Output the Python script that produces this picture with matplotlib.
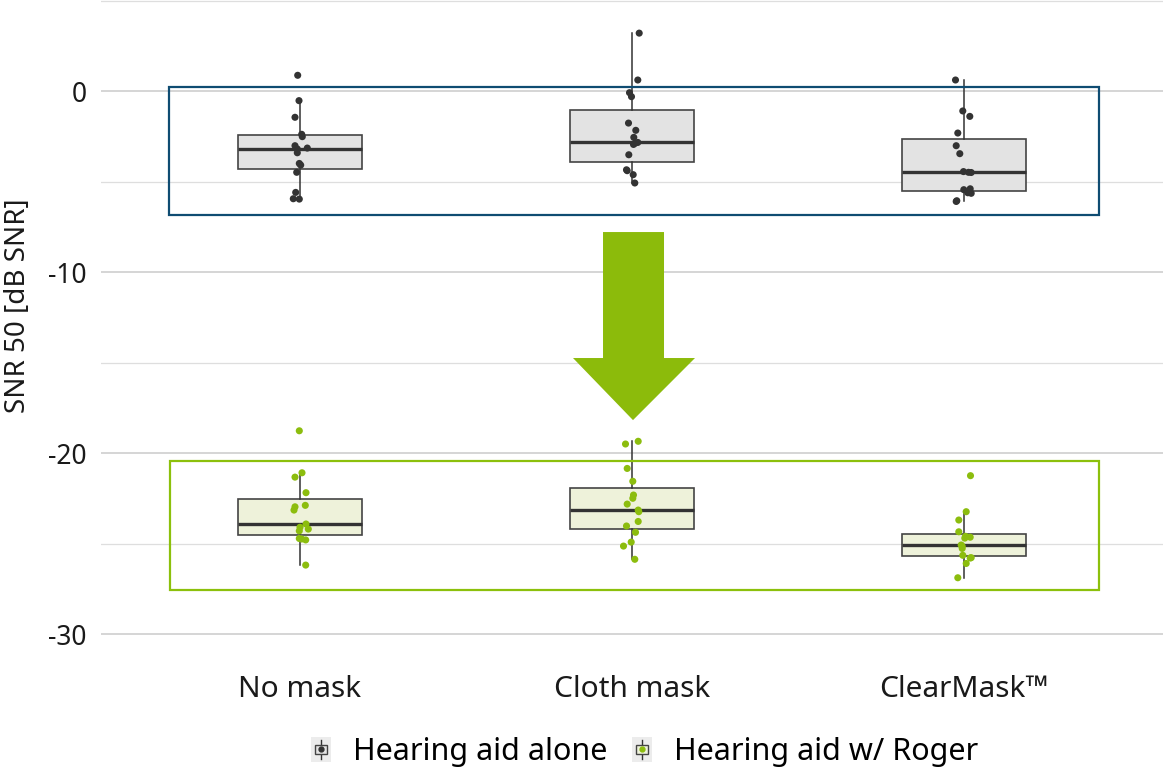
import matplotlib
matplotlib.use("Agg")
import matplotlib.pyplot as plt
from matplotlib.patches import Rectangle, Polygon, Patch
from matplotlib.lines import Line2D
from matplotlib.legend_handler import HandlerBase

plt.rcParams['font.family'] = ['Noto Sans', 'DejaVu Sans']

# ---------------- data ----------------
categories = ["No mask", "Cloth mask", "ClearMask\u2122"]
series_names = ["Hearing aid alone", "Hearing aid w/ Roger"]

alone_no_mask = [0.87, -0.53, -1.45, -2.39, -2.52, -3.02, -3.15, -3.20, -3.41,
                 -4.00, -4.09, -4.49, -5.60, -5.95, -5.97]
alone_cloth = [3.20, 0.61, -0.09, -0.31, -1.77, -2.17, -2.56, -2.84, -2.88,
               -2.95, -3.52, -4.35, -4.40, -4.62, -5.08]
alone_clear = [0.61, -1.10, -1.40, -2.32, -3.02, -3.46, -4.45, -4.49, -4.50,
               -5.40, -5.45, -5.65, -5.62, -6.06, -6.10]

roger_no_mask = [-18.77, -21.09, -21.33, -22.19, -22.89, -22.97, -23.15, -23.92,
                 -24.10, -24.20, -24.30, -24.72, -24.75, -24.80, -26.19]
roger_cloth = [-19.35, -19.50, -20.85, -21.56, -22.32, -22.50, -22.82, -23.15,
               -23.24, -23.78, -24.03, -24.38, -24.92, -25.14, -25.87]
roger_clear = [-21.25, -23.24, -23.70, -24.35, -24.60, -24.65, -24.70, -25.08,
               -25.15, -25.27, -25.65, -25.78, -25.80, -26.10, -26.89]

# horizontal jitter of each point (pixels)
jit_alone_no_mask = [-2.3, -1, -5, 1.7, 2.3, -5, 7.3, -2.7, -2.7, -0.7, 0.7, -3.3, -4.3, -6.7, -0.7]
jit_alone_cloth = [7.2, 5.8, -2.5, -0.5, -3.5, 3.8, 1.8, 5.8, 3.2, 1.5, -3.2, -5.5, -4.8, 1.2, 2.8]
jit_alone_clear = [-8.5, -1.2, 5.8, -6.2, -7.8, -4.2, -0.5, 4.5, 7.2, 6.2, -0.2, 7.2, 3.8, -7.2, -7.8]
jit_roger_no_mask = [-0.7, 2, -5, 6, 5.3, -5, -6, 6, 0, 8.3, -0.7, -0.7, 1.7, 5.7, 5.7]
jit_roger_cloth = [6.2, -6.5, -4.8, 0.8, 1.5, 0.8, -4.8, 6.2, 6.8, 6.2, -5.5, 3.5, -0.8, -8.5, 2.8]
jit_roger_clear = [6.5, 2.2, -5.2, -5.2, 1.5, 6.2, 0.8, -2.8, -1.8, -1.8, -1.2, 7.2, 6.2, 2.2, -6.2]

yticks = [0, -10, -20, -30]
yminor = [5, -5, -15, -25]

# ---------------- styling ----------------
W, H, DPI = 1165, 772, 100
PX = 1.0 / 332.0  # data units per pixel along x
COL_DARK = "#333333"
COL_GREEN = "#8cbd0e"
FILL_ALONE = "#e3e3e3"
FILL_ROGER = "#eef2da"
BLUE_FRAME = "#0f4c72"
GREEN_FRAME = "#8cc00c"
ARROW_COL = "#8cbb0b"
TXT = "#1a1a1a"

fig = plt.figure(figsize=(W / DPI, H / DPI), dpi=DPI)
ax = fig.add_axes([100.8 / W, (H - 665) / H, (1163.2 - 100.8) / W, 665 / H])
ax.set_xlim(0.4, 3.6)
ax.set_ylim(-31.71, 5.03)

positions = [1, 2, 3]
groups = [
    ([alone_no_mask, alone_cloth, alone_clear],
     [jit_alone_no_mask, jit_alone_cloth, jit_alone_clear], FILL_ALONE, COL_DARK),
    ([roger_no_mask, roger_cloth, roger_clear],
     [jit_roger_no_mask, jit_roger_cloth, jit_roger_clear], FILL_ROGER, COL_GREEN),
]

for data, jits, fill, dot in groups:
    ax.boxplot(data, positions=positions, widths=0.376, showfliers=False,
               patch_artist=True, whis=1.5, manage_ticks=False,
               boxprops=dict(facecolor=fill, edgecolor="#444444", linewidth=1.2),
               medianprops=dict(color=COL_DARK, linewidth=2.4),
               whiskerprops=dict(color=COL_DARK, linewidth=1.1),
               capprops=dict(linewidth=0), zorder=2)
    for pos, vals, jit in zip(positions, data, jits):
        xs = [pos + j * PX for j in jit]
        ax.scatter(xs, vals, s=26, color=dot, edgecolors="none", zorder=3)

# highlight frames
ax.add_patch(Rectangle((0.6054, -6.851), 3.4066 - 0.6054, 0.221 + 6.851,
                       fill=False, edgecolor=BLUE_FRAME, linewidth=1.6, zorder=4))
ax.add_patch(Rectangle((0.6084, -27.57), 3.4066 - 0.6084, 27.57 - 20.44,
                       fill=False, edgecolor=GREEN_FRAME, linewidth=1.6, zorder=4))

# arrow
arrow_xy = [(1.9127, -7.79), (2.0964, -7.79), (2.0964, -14.75), (2.1898, -14.75),
            (2.003, -18.18), (1.8223, -14.75), (1.9127, -14.75)]
ax.add_patch(Polygon(arrow_xy, closed=True, facecolor=ARROW_COL, edgecolor="none", zorder=4))

# axes styling
ax.set_yticks(yticks)
ax.set_yticks(yminor, minor=True)
ax.set_xticks(positions)
ax.set_xticklabels(categories, fontsize=21.5, color=TXT)
ax.set_yticklabels([str(t) for t in yticks], fontsize=19, color=TXT)
ax.tick_params(axis="both", which="both", length=0)
ax.tick_params(axis="y", pad=10)
ax.tick_params(axis="x", pad=7)
ax.grid(axis="y", which="major", color="#d2d2d2", linewidth=1.3, zorder=0)
ax.grid(axis="y", which="minor", color="#dedede", linewidth=0.9, zorder=0)
ax.grid(axis="x", visible=False)
ax.set_axisbelow(True)
for s in ax.spines.values():
    s.set_visible(False)

fig.text(18 / W, 1 - 306 / H, "SNR 50 [dB SNR]", rotation=90, fontsize=20,
         ha="center", va="center", color=TXT)


# legend with boxplot-like keys
class BoxKey(HandlerBase):
    def __init__(self, fill, dot):
        super().__init__()
        self.fill = fill
        self.dot = dot

    def create_artists(self, legend, orig_handle, xdescent, ydescent, width, height,
                       fontsize, trans):
        cx = width / 2 - xdescent
        cy = height / 2 - ydescent
        s = width
        bg = Rectangle((cx - s / 2, cy - s * 0.6), s, s * 1.2, facecolor="#ececec",
                       edgecolor="none", transform=trans)
        ln = Line2D([cx, cx], [cy - s * 0.45, cy + s * 0.45], color=COL_DARK,
                    linewidth=1.0, transform=trans)
        bx = Rectangle((cx - s * 0.3, cy - s * 0.22), s * 0.6, s * 0.44, facecolor=self.fill,
                       edgecolor="#444444", linewidth=1.0, transform=trans)
        pt = Line2D([cx], [cy], marker="o", markersize=3.5, color=self.dot,
                    linestyle="none", transform=trans)
        return [bg, ln, bx, pt]


h1 = Patch(label=series_names[0])
h2 = Patch(label=series_names[1])
fig.legend(handles=[h1, h2], labels=series_names, loc="center",
           bbox_to_anchor=(0.553, 1 - 752 / H), ncol=2, frameon=False,
           fontsize=22, handlelength=0.68, handleheight=0.75, handletextpad=0.7,
           columnspacing=0.8,
           handler_map={h1: BoxKey(FILL_ALONE, COL_DARK), h2: BoxKey(FILL_ROGER, COL_GREEN)})

fig.savefig("out.png", dpi=DPI)
